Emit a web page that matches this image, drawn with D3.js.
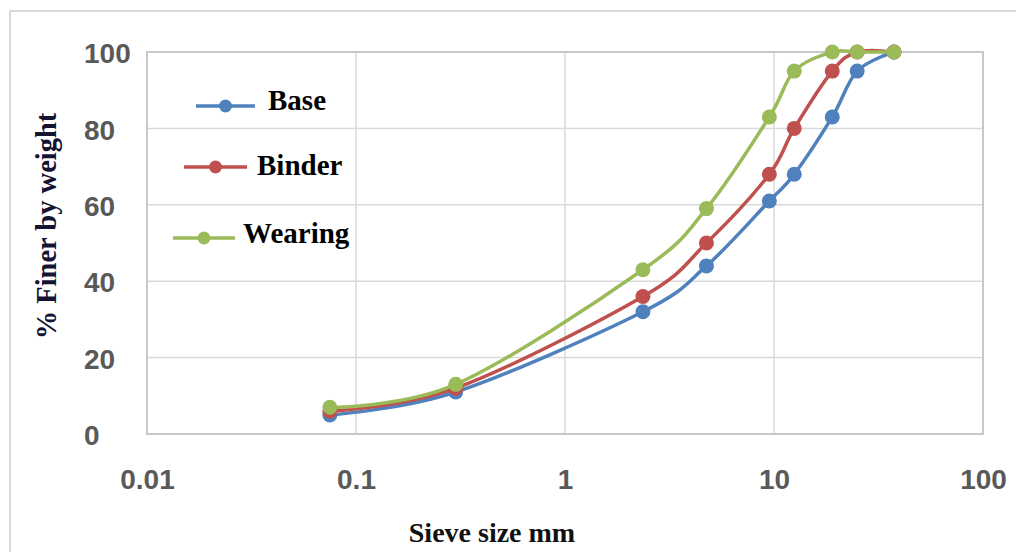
<!DOCTYPE html>
<html>
<head>
<meta charset="utf-8">
<script src="https://cdn.jsdelivr.net/npm/d3@7"></script>
<style>
  body { margin: 0; background: #fff; }
  svg { display: block; }
</style>
</head>
<body>
<svg id="chart" width="1016" height="560"></svg>
<script>
// sieve sizes (mm) and % passing
const sieves = [0.075, 0.3, 2.36, 4.75, 9.5, 12.5, 19, 25, 37.5];
const base = [5, 11, 32, 44, 61, 68, 83, 95, 100];
const binder = [6, 12, 36, 50, 68, 80, 95, 100, 100];
const wearing = [7, 13, 43, 59, 83, 95, 100, 100, 100];
const seriesNames = ["Base", "Binder", "Wearing"];
const xTicks = [0.01, 0.1, 1, 10, 100];
const yTicks = [0, 20, 40, 60, 80, 100];

const colors = ["#4f81bd", "#c0504d", "#9bbb59"];
const allSeries = [base, binder, wearing];

const svg = d3.select("#chart");
const width = +svg.attr("width");
const height = +svg.attr("height");

const plot = { left: 147, right: 983, top: 52, bottom: 434 };

// outer chart frame (only top and left edges visible)
svg.append("line")
  .attr("x1", 10).attr("x2", width).attr("y1", 11).attr("y2", 11)
  .attr("stroke", "#d9d9d9").attr("stroke-width", 2);
svg.append("line")
  .attr("x1", 10).attr("x2", 10).attr("y1", 11).attr("y2", 552)
  .attr("stroke", "#d9d9d9").attr("stroke-width", 2);

const xScale = d3.scaleLog()
  .domain([0.01, 100])
  .range([plot.left, plot.right]);

const yScale = d3.scaleLinear()
  .domain([0, 100])
  .range([plot.bottom, plot.top]);

// gridlines
const grid = svg.append("g");
grid.selectAll(".hgrid")
  .data(yTicks)
  .enter()
  .append("line")
  .attr("x1", plot.left).attr("x2", plot.right)
  .attr("y1", d => yScale(d)).attr("y2", d => yScale(d))
  .attr("stroke", "#d9d9d9").attr("stroke-width", 1.5);
grid.selectAll(".vgrid")
  .data(xTicks)
  .enter()
  .append("line")
  .attr("x1", d => xScale(d)).attr("x2", d => xScale(d))
  .attr("y1", plot.top).attr("y2", plot.bottom)
  .attr("stroke", "#d9d9d9").attr("stroke-width", 1.5);

// plot border
svg.append("rect")
  .attr("x", plot.left).attr("y", plot.top)
  .attr("width", plot.right - plot.left)
  .attr("height", plot.bottom - plot.top)
  .attr("fill", "none")
  .attr("stroke", "#c8c8c8").attr("stroke-width", 2);

// axes (labels only)
const xAxis = d3.axisBottom(xScale)
  .tickValues(xTicks)
  .tickFormat(d => String(d))
  .tickSize(0)
  .tickPadding(0);

svg.append("g")
  .attr("transform", `translate(0, ${plot.bottom})`)
  .call(xAxis)
  .call(g => g.select(".domain").remove())
  .call(g => g.selectAll("text")
    .attr("y", 45)
    .attr("dy", "0.35em")
    .attr("font-family", "Liberation Sans, Arial, sans-serif")
    .attr("font-weight", "bold")
    .attr("font-size", 28)
    .attr("fill", "#595959"));

const yAxis = d3.axisLeft(yScale)
  .tickValues(yTicks)
  .tickSize(0);

svg.append("g")
  .attr("transform", `translate(84, 0)`)
  .call(yAxis)
  .call(g => g.select(".domain").remove())
  .call(g => g.selectAll("text")
    .attr("x", 0)
    .attr("dy", "0.38em")
    .attr("text-anchor", "start")
    .attr("font-family", "Liberation Sans, Arial, sans-serif")
    .attr("font-weight", "bold")
    .attr("font-size", 28)
    .attr("fill", "#595959"));

// axis titles
svg.append("text")
  .attr("x", 492)
  .attr("y", 532)
  .attr("dy", "0.35em")
  .attr("text-anchor", "middle")
  .attr("font-family", "Liberation Serif, Times New Roman, serif")
  .attr("font-weight", "bold")
  .attr("font-size", 28)
  .attr("fill", "#111")
  .text("Sieve size mm");

svg.append("text")
  .attr("transform", "translate(46, 226) rotate(-90)")
  .attr("dy", "0.35em")
  .attr("text-anchor", "middle")
  .attr("font-family", "Liberation Serif, Times New Roman, serif")
  .attr("font-weight", "bold")
  .attr("font-size", 28.5)
  .attr("fill", "#141432")
  .text("% Finer by weight");

// series
const line = d3.line()
  .x(d => xScale(d[0]))
  .y(d => yScale(d[1]))
  .curve(d3.curveCardinal.tension(0));

allSeries.forEach((vals, i) => {
  const pts = sieves.map((s, j) => [s, vals[j]]);
  const g = svg.append("g");
  g.append("path")
    .datum(pts)
    .attr("d", line)
    .attr("fill", "none")
    .attr("stroke", colors[i])
    .attr("stroke-width", 3.5);
  g.selectAll("circle")
    .data(pts)
    .enter()
    .append("circle")
    .attr("cx", d => xScale(d[0]))
    .attr("cy", d => yScale(d[1]))
    .attr("r", 7.5)
    .attr("fill", colors[i]);
});

// legend (staggered like the original)
const legendPos = [
  { x1: 196, x2: 255, y: 106, tx: 268, ty: 110 },
  { x1: 184, x2: 247, y: 167, tx: 257, ty: 175 },
  { x1: 173, x2: 235, y: 238, tx: 243, ty: 243 }
];

const legend = svg.append("g");
seriesNames.forEach((name, i) => {
  const p = legendPos[i];
  legend.append("line")
    .attr("x1", p.x1).attr("x2", p.x2)
    .attr("y1", p.y).attr("y2", p.y)
    .attr("stroke", colors[i]).attr("stroke-width", 3.5);
  legend.append("circle")
    .attr("cx", (p.x1 + p.x2) / 2)
    .attr("cy", p.y)
    .attr("r", 6.5)
    .attr("fill", colors[i]);
  legend.append("text")
    .attr("x", p.tx)
    .attr("y", p.ty)
    .attr("font-family", "Liberation Serif, Times New Roman, serif")
    .attr("font-weight", "bold")
    .attr("font-size", 29)
    .attr("fill", "#000")
    .text(name);
});
</script>
</body>
</html>
